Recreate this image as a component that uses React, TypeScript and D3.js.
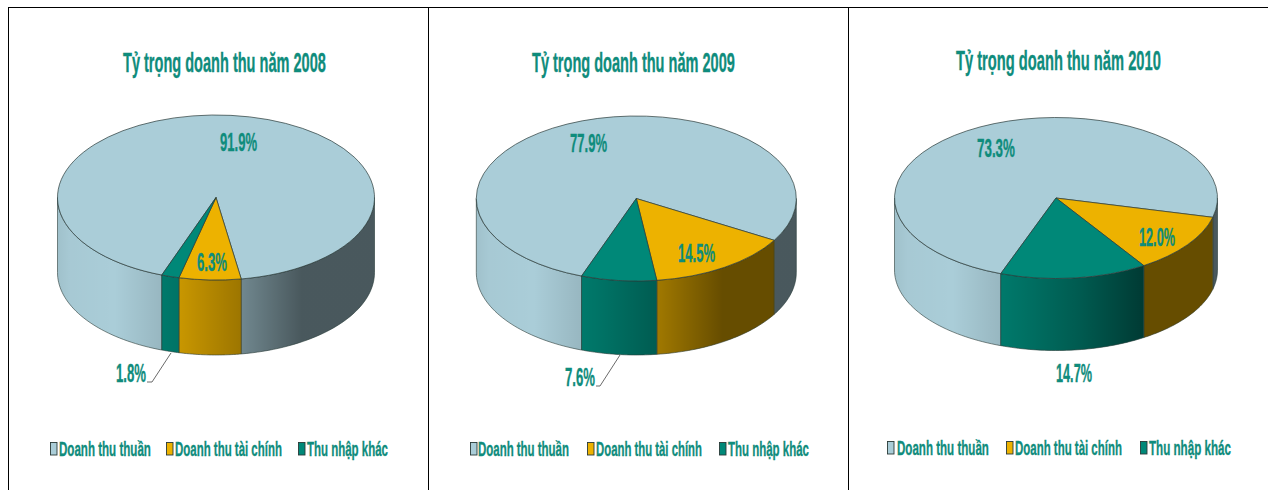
import React from "react";
import * as d3 from "d3";

// Revenue structure by year, in percent
const categories = ["Doanh thu thuần", "Doanh thu tài chính", "Thu nhập khác"];
const years = [2008, 2009, 2010];
const shares2008 = [91.9, 6.3, 1.8];
const shares2009 = [77.9, 14.5, 7.6];
const shares2010 = [73.3, 12.0, 14.7];
const colors = ["#aacdd8", "#edb200", "#008878"];

const WIDTH = 1268;
const HEIGHT = 490;
const INK = "#0f8c7c";
const FONT_FAMILY = "'Liberation Sans Narrow', 'Liberation Sans', Arial, sans-serif";
const START = (200 * Math.PI) / 180;

// Geometry of each drum plus where its texts sit
const panels = [
  {
    values: shares2008,
    cx: 216, cy: 197.5, rx: 158.5, ry: 82.5, depth: 75,
    title: { x: 123, w: 203, y: 71.5 },
    labels: [
      { x: 220, w: 37, y: 151 },
      { x: 197, w: 30, y: 271 },
      { x: 116, w: 30, y: 382 },
    ],
    leader: [[171, 353], [152, 382], [147, 382]],
    legend: [
      { sx: 50, tx: 59, tw: 92 },
      { sx: 166, tx: 175, tw: 107 },
      { sx: 298, tx: 307, tw: 81 },
    ],
    legendY: 456,
  },
  {
    values: shares2009,
    cx: 636.3, cy: 198.5, rx: 160, ry: 82.5, depth: 74,
    title: { x: 532, w: 203, y: 71.5 },
    labels: [
      { x: 570, w: 37, y: 152 },
      { x: 678, w: 37, y: 262 },
      { x: 565, w: 30, y: 386 },
    ],
    leader: [[620, 355], [600, 386], [596, 386]],
    legend: [
      { sx: 470, tx: 478, tw: 91 },
      { sx: 587, tx: 596, tw: 106 },
      { sx: 719, tx: 728, tw: 81 },
    ],
    legendY: 456,
  },
  {
    values: shares2010,
    cx: 1056, cy: 198, rx: 161.5, ry: 80.5, depth: 72,
    title: { x: 956, w: 205, y: 69.5 },
    labels: [
      { x: 977, w: 38, y: 157 },
      { x: 1139, w: 36, y: 246 },
      { x: 1056, w: 36, y: 382 },
    ],
    leader: null,
    legend: [
      { sx: 887, tx: 897, tw: 92 },
      { sx: 1006, tx: 1015, tw: 107 },
      { sx: 1140, tx: 1149, tw: 82 },
    ],
    legendY: 455,
  },
];

const pieLayout = d3
  .pie<number>()
  .sort(null)
  .value((d) => d)
  .startAngle(START)
  .endAngle(START + 2 * Math.PI);

// Parts of an angular span that face the viewer (the lower half of the drum)
function frontSpans(a0: number, a1: number): [number, number][] {
  const out: [number, number][] = [];
  for (const k of [0, 1, 2]) {
    const lo = Math.PI / 2 + k * 2 * Math.PI;
    const hi = (3 * Math.PI) / 2 + k * 2 * Math.PI;
    const s = Math.max(a0, lo);
    const e = Math.min(a1, hi);
    if (e > s) out.push([s, e]);
  }
  return out;
}

function Drum({ p, index }: { p: (typeof panels)[number]; index: number }) {
  const arcs = pieLayout(p.values);
  const arcGen = d3.arc<d3.PieArcDatum<number>>().innerRadius(0).outerRadius(p.rx);
  const px = (a: number) => p.cx + p.rx * Math.sin(a);
  const py = (a: number) => p.cy - p.ry * Math.cos(a);
  const line = d3.line<[number, number]>();

  const sidePath = (s: number, e: number) => {
    const steps = d3.range(0, 41).map((i) => s + ((e - s) * i) / 40);
    const rim = steps.map((a) => [px(a), py(a)] as [number, number]);
    const base = steps
      .slice()
      .reverse()
      .map((a) => [px(a), py(a) + p.depth] as [number, number]);
    return line([...rim, ...base]) + "Z";
  };

  const shadeId = `shade-${index}`;
  return (
    <g>
      <defs>
        <linearGradient
          id={shadeId}
          gradientUnits="userSpaceOnUse"
          x1={p.cx - p.rx}
          x2={p.cx + p.rx}
          y1={0}
          y2={0}
        >
          <stop offset="0" stopColor="#000" stopOpacity={0.06} />
          <stop offset="0.04" stopColor="#000" stopOpacity={0.02} />
          <stop offset="0.18" stopColor="#000" stopOpacity={0} />
          <stop offset="0.33" stopColor="#000" stopOpacity={0.11} />
          <stop offset="0.39" stopColor="#000" stopOpacity={0.16} />
          <stop offset="0.58" stopColor="#000" stopOpacity={0.34} />
          <stop offset="0.77" stopColor="#000" stopOpacity={0.57} />
          <stop offset="1" stopColor="#000" stopOpacity={0.57} />
        </linearGradient>
      </defs>
      {arcs.map((d, i) =>
        frontSpans(d.startAngle, d.endAngle).map(([s, e], j) => (
          <g key={`${i}-${j}`}>
            <path d={sidePath(s, e)} fill={colors[i]} />
            <path
              d={sidePath(s, e)}
              fill={`url(#${shadeId})`}
              stroke="#2a3a38"
              strokeWidth={0.6}
            />
          </g>
        ))
      )}
      <g transform={`translate(${p.cx},${p.cy}) scale(1,${p.ry / p.rx})`}>
        {arcs.map((d, i) => (
          <path
            key={i}
            d={arcGen(d) as string}
            fill={colors[i]}
            stroke="#2a3a38"
            strokeWidth={0.7}
            vectorEffect="non-scaling-stroke"
          />
        ))}
      </g>
    </g>
  );
}

// Natural text width, used to squeeze each string into its horizontal slot
const measureCtx = document.createElement("canvas").getContext("2d") as CanvasRenderingContext2D;
function naturalWidth(text: string, size: number) {
  measureCtx.font = `bold ${size}px ${FONT_FAMILY}`;
  return measureCtx.measureText(text).width;
}

function Squeezed({ x, y, w, size, text }: { x: number; y: number; w: number; size: number; text: string }) {
  const sx = w / naturalWidth(text, size);
  return (
    <text
      transform={`translate(${x},${y}) scale(${sx},1)`}
      fontFamily={FONT_FAMILY}
      fontWeight="bold"
      fontSize={size}
      fill={INK}
      stroke={INK}
      strokeWidth={0.35}
    >
      {text}
    </text>
  );
}

export default function App() {
  const frameX = [8.5, 428.5, 848.5];
  return (
    <svg
      width={WIDTH}
      height={HEIGHT}
      viewBox={`0 0 ${WIDTH} ${HEIGHT}`}
      style={{ position: "absolute", left: 0, top: 0, display: "block", background: "#fff" }}
    >
      <line x1={8} x2={WIDTH} y1={7.5} y2={7.5} stroke="#000" />
      {frameX.map((x) => (
        <line key={x} x1={x} x2={x} y1={7} y2={HEIGHT} stroke="#000" />
      ))}
      {panels.map((p, i) => (
        <g key={i}>
          <Drum p={p} index={i} />
          <Squeezed
            x={p.title.x}
            y={p.title.y}
            w={p.title.w}
            size={27}
            text={`Tỷ trọng doanh thu năm ${years[i]}`}
          />
          {p.leader && (
            <path
              d={d3.line()(p.leader as [number, number][]) as string}
              fill="none"
              stroke="#444"
              strokeWidth={0.8}
            />
          )}
          {p.values.map((v, j) => (
            <Squeezed
              key={j}
              x={p.labels[j].x}
              y={p.labels[j].y}
              w={p.labels[j].w}
              size={26}
              text={`${v.toFixed(1)}%`}
            />
          ))}
          {categories.map((c, j) => (
            <g key={c}>
              <rect
                x={p.legend[j].sx + 0.5}
                y={p.legendY - 13.5}
                width={6.5}
                height={12.5}
                fill={colors[j]}
                stroke="#2a3a38"
                strokeWidth={0.9}
              />
              <Squeezed x={p.legend[j].tx} y={p.legendY} w={p.legend[j].tw} size={21} text={c} />
            </g>
          ))}
        </g>
      ))}
    </svg>
  );
}
